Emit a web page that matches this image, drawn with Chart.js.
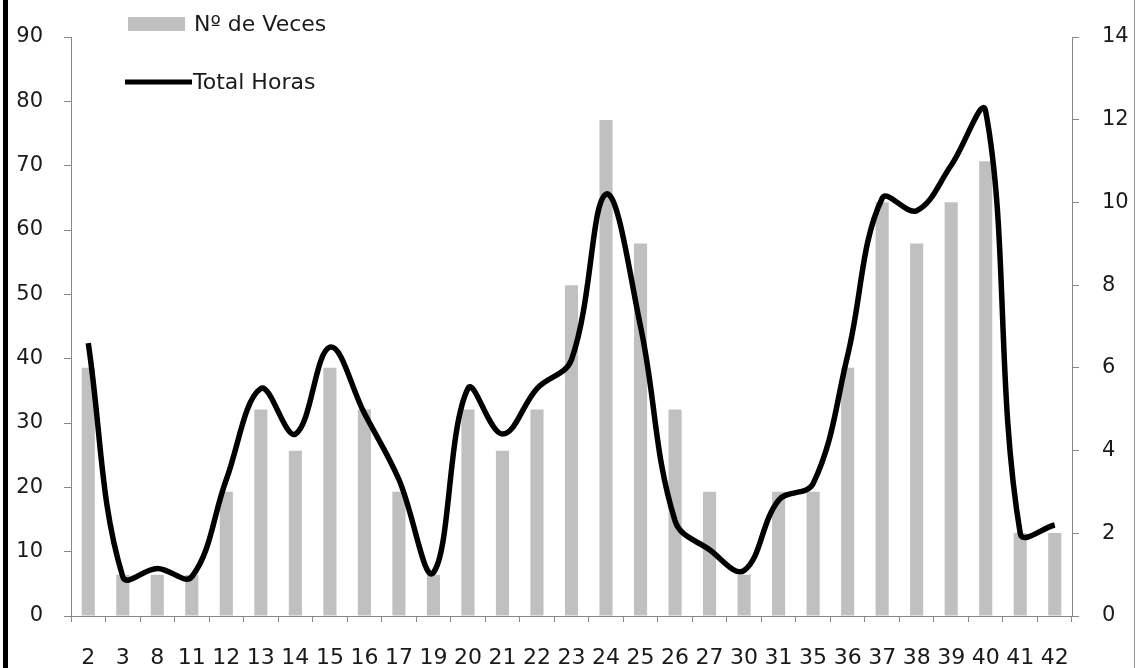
<!DOCTYPE html>
<html>
<head>
<meta charset="utf-8">
<script src="https://cdn.jsdelivr.net/npm/chart.js@4.4.1/dist/chart.umd.min.js"></script>
<style>
  body { margin: 0; background: #fff; }
  #wrap { position: relative; width: 1136px; height: 668px; overflow: hidden; }
  #edgeL { position: absolute; left: 3px; top: 0; width: 5px; height: 668px; background: #000; }
  #edgeR { position: absolute; left: 1134px; top: 0; width: 1px; height: 668px; background: #999; }
</style>
</head>
<body>
<div id="wrap">
  <canvas id="chart" width="1136" height="668"></canvas>
  <div id="edgeL"></div>
  <div id="edgeR"></div>
</div>
<script>
const categories = ['2','3','8','11','12','13','14','15','16','17','19','20','21','22','23','24','25','26','27','30','31','35','36','37','38','39','40','41','42'];
const nVeces = [38.6,6.4,6.4,6.4,19.3,32.1,25.7,38.6,32.1,19.3,6.4,32.1,25.7,32.1,51.4,77.1,57.9,32.1,19.3,6.4,19.3,19.3,38.6,64.3,57.9,64.3,70.7,12.9,12.9];
const totalHoras = [6.6,0.95,1.15,0.95,3.3,5.5,4.4,6.5,4.9,3.3,1.05,5.5,4.4,5.5,6.2,10.2,7.0,2.3,1.6,1.1,2.8,3.2,6.3,10.1,9.8,10.9,12.2,2.0,2.2];
const leftTicks = [0,10,20,30,40,50,60,70,80,90];
const rightTicks = [0,2,4,6,8,10,12,14];

const FONT = 'DejaVu Sans';
const TXT = '#1a1a1a';

// legend sits inside the plot, top-left
const insideLegend = {
  id: 'insideLegend',
  afterDraw(chart) {
    const ctx = chart.ctx;
    const bars = chart.data.datasets.find(d => d.type !== 'line');
    const line = chart.data.datasets.find(d => d.type === 'line');
    ctx.save();
    ctx.font = '22px ' + FONT;
    ctx.textBaseline = 'middle';
    ctx.fillStyle = bars.backgroundColor;
    ctx.fillRect(128, 17, 57, 14);
    ctx.fillStyle = TXT;
    ctx.fillText(bars.label, 194, 25);
    ctx.strokeStyle = line.borderColor;
    ctx.lineWidth = 5;
    ctx.beginPath();
    ctx.moveTo(125, 82);
    ctx.lineTo(192, 82);
    ctx.stroke();
    ctx.fillText(line.label, 193, 83);
    ctx.restore();
  }
};

new Chart(document.getElementById('chart'), {
  type: 'bar',
  data: {
    labels: categories,
    datasets: [
      {
        label: 'Nº de Veces',
        data: nVeces,
        yAxisID: 'y',
        backgroundColor: '#c0c0c0',
        categoryPercentage: 1.0,
        barPercentage: 0.38,
        order: 1
      },
      {
        type: 'line',
        label: 'Total Horas',
        data: totalHoras,
        yAxisID: 'y1',
        borderColor: '#000000',
        backgroundColor: '#000000',
        borderWidth: 5.5,
        pointRadius: 0,
        tension: 0.38,
        order: 0
      }
    ]
  },
  options: {
    responsive: false,
    animation: false,
    layout: { padding: { top: 37, left: 0, right: 0, bottom: 0 } },
    plugins: { legend: { display: false }, tooltip: { enabled: false } },
    scales: {
      x: {
        offset: true,
        grid: { offset: true, drawOnChartArea: false, color: '#888', tickLength: 6 },
        border: { color: '#888' },
        ticks: {
          autoSkip: false, maxRotation: 0, minRotation: 0, padding: 23,
          color: TXT, font: { family: FONT, size: 22 }
        },
        afterFit(a) { a.height = 52; }
      },
      y: {
        position: 'left',
        min: 0, max: 90,
        afterBuildTicks(a) { a.ticks = leftTicks.map(v => ({ value: v })); },
        grid: { drawOnChartArea: false, color: '#888', tickLength: 7 },
        border: { color: '#888' },
        ticks: { padding: 21, color: TXT, font: { family: FONT, size: 21 } },
        afterFit(a) { a.width = 71; }
      },
      y1: {
        position: 'right',
        min: 0, max: 14,
        afterBuildTicks(a) { a.ticks = rightTicks.map(v => ({ value: v })); },
        grid: { drawOnChartArea: false, color: '#888', tickLength: 7 },
        border: { color: '#888' },
        ticks: { padding: 23, color: TXT, font: { family: FONT, size: 21 } },
        afterFit(a) { a.width = 64; }
      }
    }
  },
  plugins: [insideLegend]
});
</script>
</body>
</html>
